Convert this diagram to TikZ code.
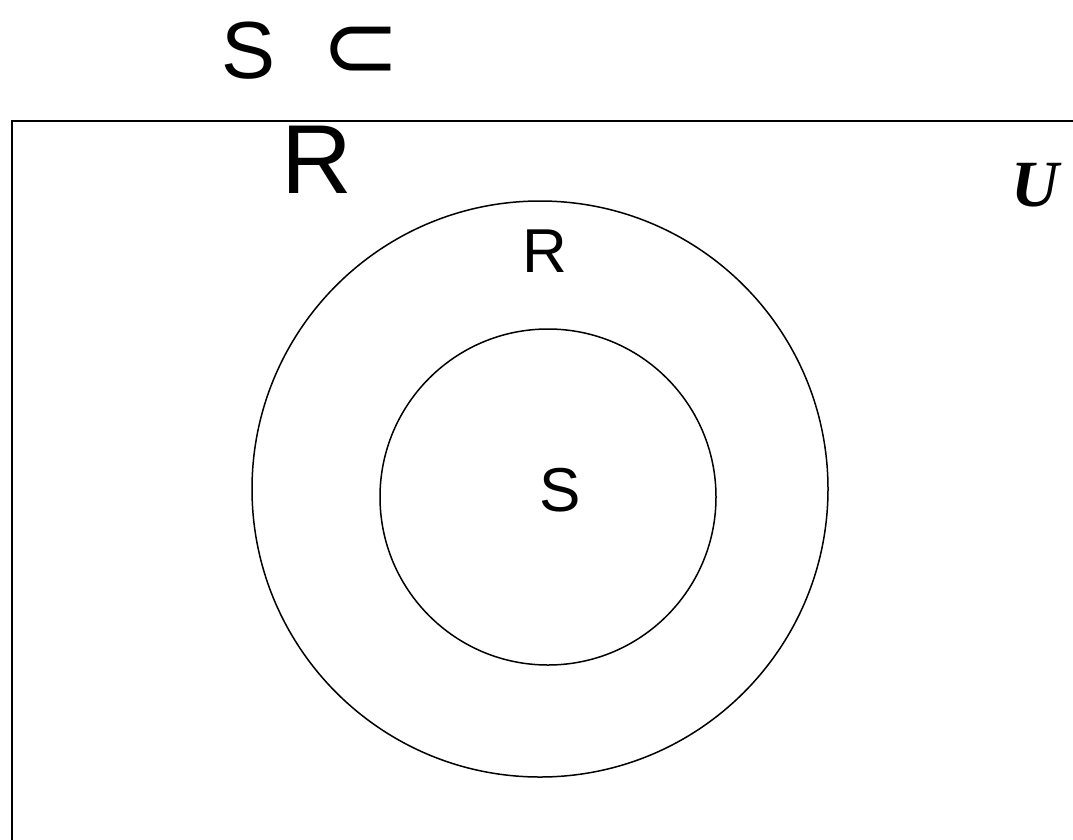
\documentclass[tikz,border=0pt]{standalone}
\usepackage{fontspec}
\setmainfont{Liberation Sans}
\newfontfamily\timesfont{Liberation Serif}
\newfontfamily\symfont{DejaVu Sans}
\usetikzlibrary{positioning}

\tikzset{
  setcircle/.style={draw, circle, line width=1.5pt, inner sep=0pt},
  setlabel/.style={anchor=base, inner sep=0pt, font=\fontsize{62}{66}\selectfont},
}

\begin{document}
\begin{tikzpicture}[x=1pt, y=-1pt]
        \useasboundingbox (0,0) rectangle (1073,839);

        % --- Universe ---
        \draw[line width=2pt] (1080,121) -- (12,121) -- (12,850);
        \node[anchor=base, inner sep=0pt, font=\timesfont\bfseries\itshape\fontsize{66}{70}\selectfont]
            (uni) at (1035,206) {U};

        % --- Sets ---
        \node[setcircle, minimum size=576pt] (setR) at (540,489) {};
        \node[setcircle, minimum size=336pt] (setS) at (548,497) {};
        \node[setlabel] (labR) at (545,272) {R};
        \node[setlabel] (labS) at (560,511) {S};

        % --- Title ---
        \node[anchor=base west, inner sep=0pt, font=\fontsize{81}{85}\selectfont]
            (title) at (221,78) {S\hspace{46pt}{\symfont\fontsize{94}{98}\selectfont ⊂}};
        \node[anchor=base, inner sep=0pt, font=\fontsize{98}{102}\selectfont]
            (titleR) at (317,193) {R};
    \end{tikzpicture}
\end{document}
